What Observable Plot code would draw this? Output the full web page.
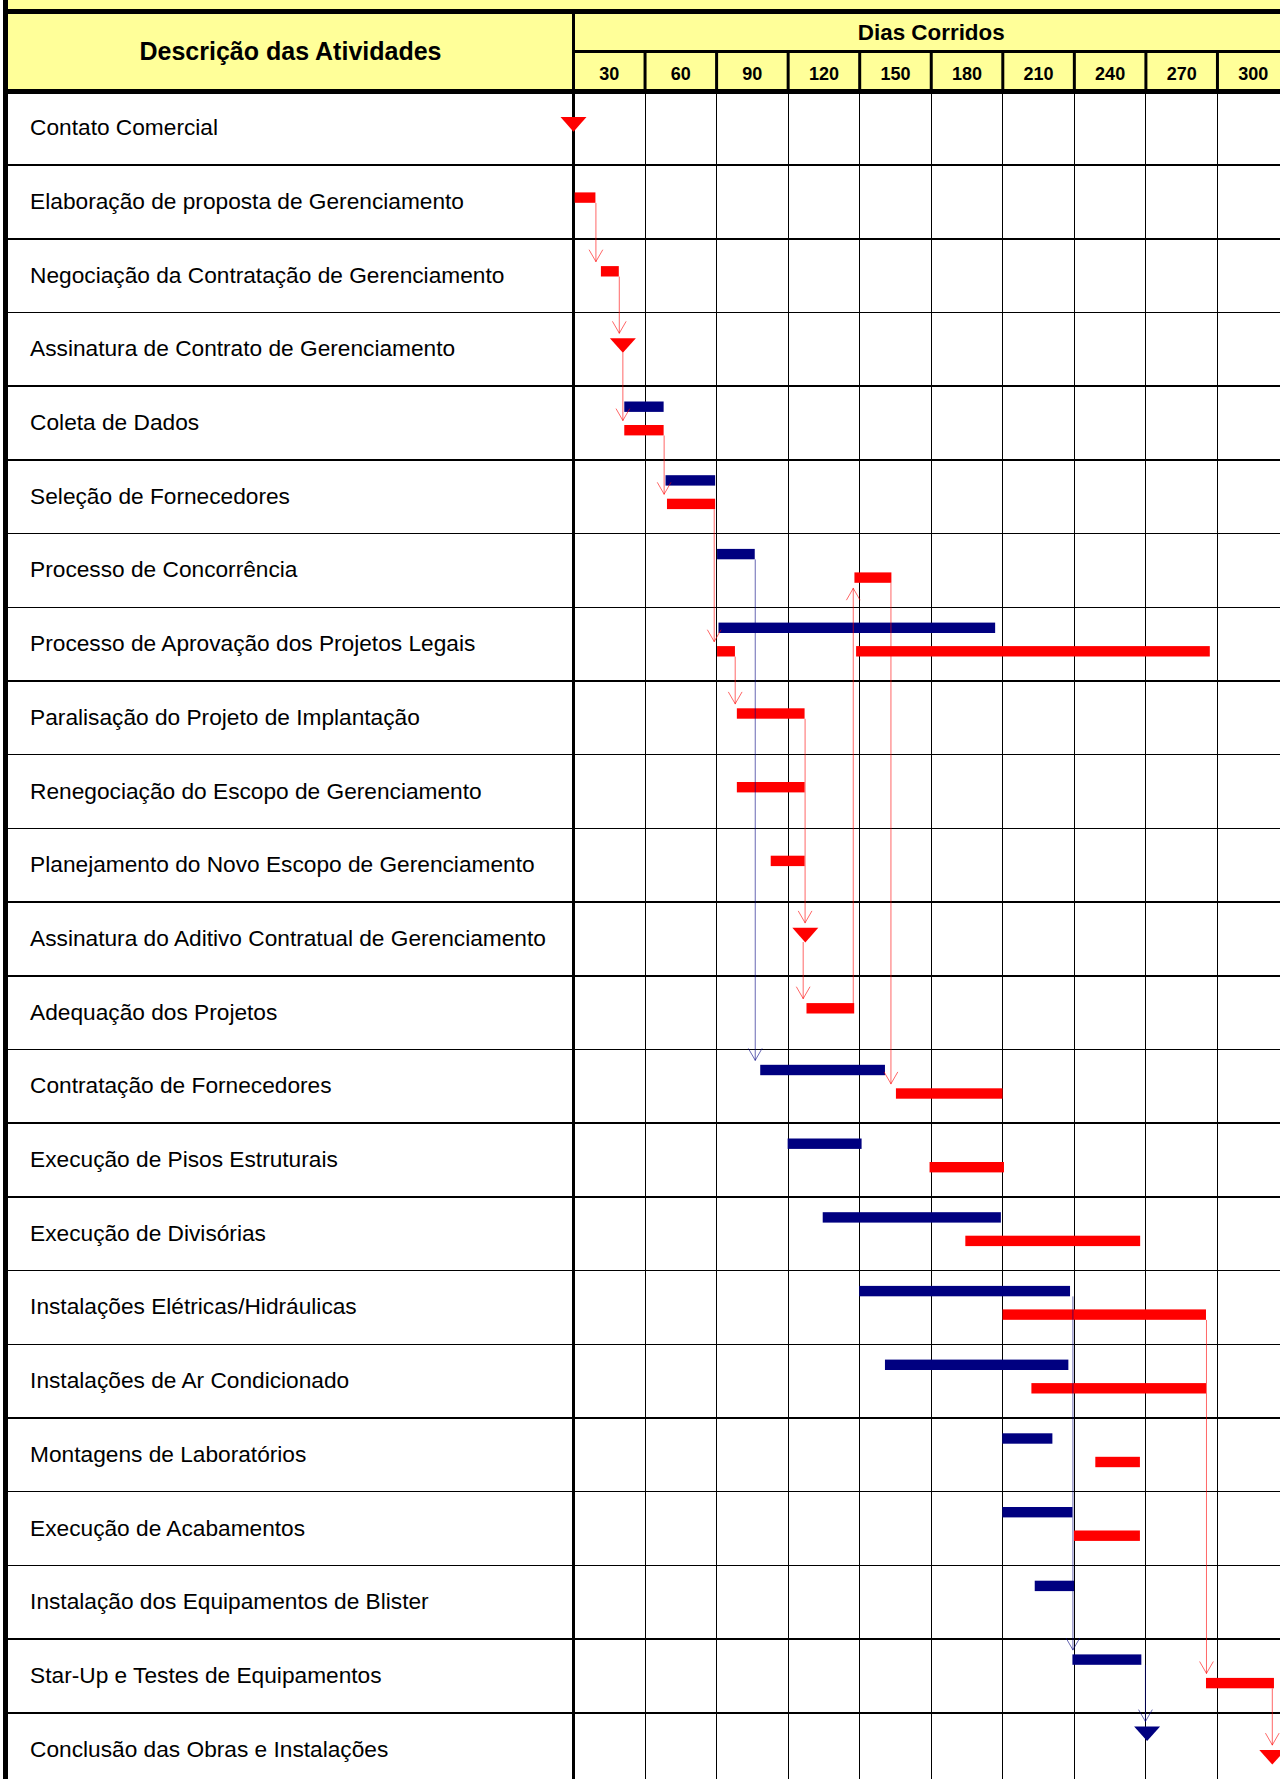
<!DOCTYPE html>
<html><head><meta charset="utf-8">
<script src="https://cdn.jsdelivr.net/npm/d3@7"></script>
<script src="https://cdn.jsdelivr.net/npm/@observablehq/plot@0.6"></script>
<style>
html,body{margin:0;padding:0;background:#fff;overflow:hidden;}
#page{position:relative;width:1280px;height:1779px;overflow:hidden;background:#fff;font-family:"Liberation Sans",Arial,sans-serif;}
#topstrip{position:absolute;left:8px;top:0;width:1272px;height:9px;background:#ffff99;}
#header{position:absolute;left:3px;top:9px;width:1300px;height:80px;box-sizing:border-box;border-top:5px solid #000;border-left:5px solid #000;background:#ffff99;}
#leftborder{position:absolute;left:3px;top:0;width:5px;height:1779px;background:#000;}
#desc{position:absolute;left:8px;width:565px;top:38.5px;text-align:center;font-weight:bold;font-size:25px;line-height:25px;color:#000;}
#headplot,#bodyplot{position:absolute;left:0;top:0;}
#headplot svg,#bodyplot svg{display:block;}
</style></head>
<body><div id="page">
<div id="topstrip"></div><div id="header"></div><div id="leftborder"></div>
<div id="desc">Descrição das Atividades</div>
<div id="headplot"></div><div id="bodyplot"></div>
</div>
<script>
// ---------- DATA ----------
const activities = [
  "Contato Comercial",
  "Elaboração de proposta de Gerenciamento",
  "Negociação da Contratação de Gerenciamento",
  "Assinatura de Contrato de Gerenciamento",
  "Coleta de Dados",
  "Seleção de Fornecedores",
  "Processo de Concorrência",
  "Processo de Aprovação dos Projetos Legais",
  "Paralisação do Projeto de Implantação",
  "Renegociação do Escopo de Gerenciamento",
  "Planejamento do Novo Escopo de Gerenciamento",
  "Assinatura do Aditivo Contratual de Gerenciamento",
  "Adequação dos Projetos",
  "Contratação de Fornecedores",
  "Execução de Pisos Estruturais",
  "Execução de Divisórias",
  "Instalações Elétricas/Hidráulicas",
  "Instalações de Ar Condicionado",
  "Montagens de Laboratórios",
  "Execução de Acabamentos",
  "Instalação dos Equipamentos de Blister",
  "Star-Up e Testes de Equipamentos",
  "Conclusão das Obras e Instalações"
];
const headerTitle = "Dias Corridos";
const columnLabels = [30, 60, 90, 120, 150, 180, 210, 240, 270, 300];

// planned (blue) bars: [activity, start day, end day]
const plannedBars = [
  ["Coleta de Dados", 21.5, 38],
  ["Seleção de Fornecedores", 38.8, 59.6],
  ["Processo de Concorrência", 60.4, 76.2],
  ["Processo de Aprovação dos Projetos Legais", 61, 177],
  ["Contratação de Fornecedores", 78.5, 130.8],
  ["Execução de Pisos Estruturais", 90, 121],
  ["Execução de Divisórias", 104.7, 179.4],
  ["Instalações Elétricas/Hidráulicas", 120, 208.4],
  ["Instalações de Ar Condicionado", 130.8, 207.7],
  ["Montagens de Laboratórios", 180, 201],
  ["Execução de Acabamentos", 180, 209.4],
  ["Instalação dos Equipamentos de Blister", 193.6, 210.1],
  ["Star-Up e Testes de Equipamentos", 209.4, 238.3]
];
// actual (red) bars
const actualBars = [
  ["Elaboração de proposta de Gerenciamento", 0.7, 9.4],
  ["Negociação da Contratação de Gerenciamento", 11.7, 19.2],
  ["Coleta de Dados", 21.5, 38],
  ["Seleção de Fornecedores", 39.4, 59.6],
  ["Processo de Concorrência", 118, 133.5],
  ["Processo de Aprovação dos Projetos Legais", 60.4, 67.9],
  ["Processo de Aprovação dos Projetos Legais", 118.7, 267],
  ["Paralisação do Projeto de Implantação", 68.7, 97.1],
  ["Renegociação do Escopo de Gerenciamento", 68.7, 97.1],
  ["Planejamento do Novo Escopo de Gerenciamento", 82.9, 97.1],
  ["Adequação dos Projetos", 97.9, 117.9],
  ["Contratação de Fornecedores", 135.4, 180.1],
  ["Execução de Pisos Estruturais", 149.5, 180.7],
  ["Execução de Divisórias", 164.5, 237.8],
  ["Instalações Elétricas/Hidráulicas", 180.1, 265.4],
  ["Instalações de Ar Condicionado", 192.2, 265.4],
  ["Montagens de Laboratórios", 219, 237.7],
  ["Execução de Acabamentos", 210, 237.7],
  ["Star-Up e Testes de Equipamentos", 265.4, 293.9]
];
// milestones: [activity, day]
const plannedMilestones = [
  ["Conclusão das Obras e Instalações", 240.5]
];
const actualMilestones = [
  ["Contato Comercial", 0],
  ["Assinatura de Contrato de Gerenciamento", 20.7],
  ["Assinatura do Aditivo Contratual de Gerenciamento", 97.2],
  ["Conclusão das Obras e Instalações", 293]
];
// dependency arrows: [series, from activity, to activity, day]
const links = [
  ["actual", "Elaboração de proposta de Gerenciamento", "Negociação da Contratação de Gerenciamento", 9.4],
  ["actual", "Negociação da Contratação de Gerenciamento", "Assinatura de Contrato de Gerenciamento", 19.2],
  ["actual", "Assinatura de Contrato de Gerenciamento", "Coleta de Dados", 20.7],
  ["actual", "Coleta de Dados", "Seleção de Fornecedores", 38],
  ["actual", "Seleção de Fornecedores", "Processo de Aprovação dos Projetos Legais", 59],
  ["actual", "Processo de Aprovação dos Projetos Legais", "Paralisação do Projeto de Implantação", 67.8],
  ["planned", "Processo de Concorrência", "Contratação de Fornecedores", 76.2],
  ["actual", "Paralisação do Projeto de Implantação", "Assinatura do Aditivo Contratual de Gerenciamento", 97.1],
  ["actual", "Assinatura do Aditivo Contratual de Gerenciamento", "Adequação dos Projetos", 96.3],
  ["actual", "Adequação dos Projetos", "Processo de Concorrência", 117.3],
  ["actual", "Processo de Concorrência", "Contratação de Fornecedores", 133.1],
  ["planned", "Instalações Elétricas/Hidráulicas", "Star-Up e Testes de Equipamentos", 209.4],
  ["planned", "Star-Up e Testes de Equipamentos", "Conclusão das Obras e Instalações", 239.8],
  ["actual", "Instalações Elétricas/Hidráulicas", "Star-Up e Testes de Equipamentos", 265.4],
  ["actual", "Star-Up e Testes de Equipamentos", "Conclusão das Obras e Instalações", 293]
];

// ---------- LAYOUT / STYLE ----------
const FONT = '"Liberation Sans", Arial, sans-serif';
const COLORS = {planned: "#000080", actual: "#ff0000"};
const ROW_PX = 73.7, TOP_PX = 90.9;
const X_RANGE = [573, 1288.5];
const LANE = {planned: 21, actualPaired: 44.5, actualSolo: 33};
const BAR_H = 10.4, TRI_H = 14.6, TRI_R = 13, GAP = 5;
const nRows = activities.length;
const colPx = (X_RANGE[1] - X_RANGE[0]) / columnLabels.length;

const rowOf = Object.fromEntries(activities.map((a, i) => [a, i]));
const hasPlanned = new Set([...plannedBars, ...plannedMilestones].map(d => d[0]));
function laneCenter(series, act) {
  const px = series === "planned" ? LANE.planned : (hasPlanned.has(act) ? LANE.actualPaired : LANE.actualSolo);
  return rowOf[act] + px / ROW_PX;
}
const bars = [
  ...plannedBars.map(([activity, start, end]) => ({series: "planned", activity, start, end})),
  ...actualBars.map(([activity, start, end]) => ({series: "actual", activity, start, end}))
];
const milestones = [
  ...plannedMilestones.map(([activity, day]) => ({series: "planned", activity, day})),
  ...actualMilestones.map(([activity, day]) => ({series: "actual", activity, day}))
];
const msSet = new Set(milestones.map(d => d.series + "|" + d.activity));
const half = (s, a) => (msSet.has(s + "|" + a) ? TRI_H : BAR_H) / 2 / ROW_PX;
const arrows = links.map(([series, from, to, day]) => {
  const yf = laneCenter(series, from), yt = laneCenter(series, to);
  const sg = yt > yf ? 1 : -1;
  return {series, day, y1: yf + sg * half(series, from), y2: yt - sg * (half(series, to) + GAP / ROW_PX)};
});

const triangleDown = {
  draw(context, size) {
    const r = Math.sqrt(size / Math.PI), h = TRI_H / 2;
    context.moveTo(-r, -h); context.lineTo(r, -h); context.lineTo(0, h); context.closePath();
  }
};

const series = ["planned", "actual"];

// ---------- HEADER PLOT ----------
const head = Plot.plot({
  width: 1280, height: 89,
  marginTop: 51, marginBottom: 0, marginLeft: 573, marginRight: 0,
  style: {background: "transparent", fontFamily: FONT, color: "#000"},
  x: {domain: [0, columnLabels[columnLabels.length - 1]], range: X_RANGE, axis: null},
  marks: [
    Plot.frame({anchor: "top", stroke: "#000", strokeWidth: 3}),
    Plot.ruleX(columnLabels, {stroke: "#000", strokeWidth: 3}),
    Plot.axisX(columnLabels, {anchor: "bottom", tickSize: 0, tickFormat: d => String(d), dx: -colPx / 2, dy: -31.5, fontSize: 18, fontWeight: "bold", fill: "#000", label: null}),
    Plot.text([headerTitle], {x: columnLabels[columnLabels.length - 1] / 2, frameAnchor: "top", lineAnchor: "middle", dy: -18.9, fontSize: 22.4, fontWeight: "bold", fill: "#000"})
  ]
});
document.getElementById("headplot").append(head);

// ---------- BODY PLOT ----------
const body = Plot.plot({
  width: 1280, height: 1779,
  marginTop: 9, marginBottom: 0, marginLeft: 8, marginRight: 0,
  style: {background: "transparent", fontFamily: FONT, color: "#000"},
  x: {domain: [0, columnLabels[columnLabels.length - 1]], range: X_RANGE, axis: null},
  y: {domain: [0, nRows], range: [TOP_PX, TOP_PX + nRows * ROW_PX], axis: null},
  marks: [
    Plot.ruleY(d3.range(1, nRows), {stroke: "#000", strokeWidth: 1.5, shapeRendering: "crispEdges"}),
    Plot.ruleX(columnLabels, {y1: 0, y2: nRows, stroke: "#000", strokeWidth: 1, shapeRendering: "crispEdges"}),
    Plot.ruleY([0], {stroke: "#000", strokeWidth: 5}),
    Plot.ruleX([0], {stroke: "#000", strokeWidth: 3}),
    ...series.map(s => Plot.rect(bars.filter(d => d.series === s), {
      x1: "start", x2: "end",
      y1: d => laneCenter(s, d.activity) - BAR_H / 2 / ROW_PX,
      y2: d => laneCenter(s, d.activity) + BAR_H / 2 / ROW_PX,
      fill: COLORS[s]
    })),
    ...series.map(s => Plot.arrow(arrows.filter(d => d.series === s), {
      x1: "day", x2: "day", y1: "y1", y2: "y2",
      stroke: COLORS[s], strokeOpacity: 0.6, strokeWidth: 1, headLength: 20, headAngle: 60
    })),
    ...series.map(s => Plot.dot(milestones.filter(d => d.series === s), {
      x: "day", y: d => laneCenter(s, d.activity),
      r: TRI_R, symbol: triangleDown, fill: COLORS[s], stroke: null
    })),
    Plot.axisY(activities.map((_, i) => i + 0.5), {
      anchor: "left", tickSize: 0, tickFormat: d => activities[Math.floor(d)],
      textAnchor: "start", dx: 30.6, dy: -0.3, fontSize: 22.7, fill: "#000", label: null
    })
  ]
});
document.getElementById("bodyplot").append(body);
</script>
</body></html>
